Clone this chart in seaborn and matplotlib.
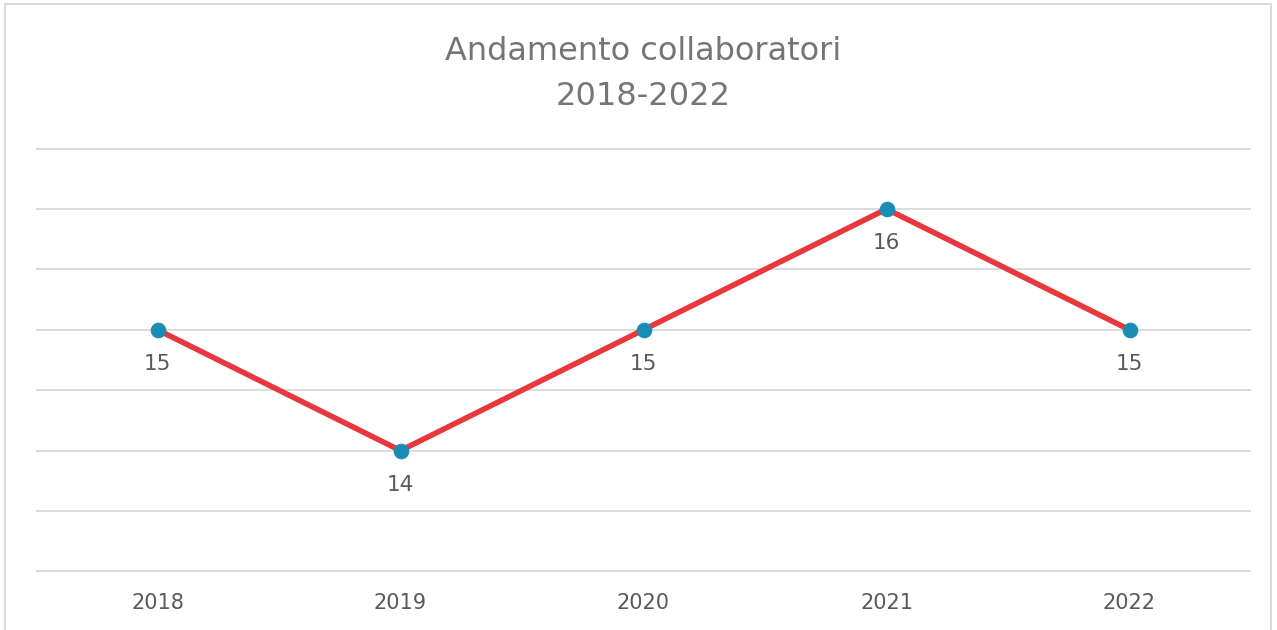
import matplotlib
matplotlib.use("Agg")
import matplotlib.pyplot as plt
import seaborn as sns
import pandas as pd
from matplotlib.patches import Rectangle

years = ["2018", "2019", "2020", "2021", "2022"]
collaboratori = [15, 14, 15, 16, 15]

sns.set_theme(style="white")
plt.rcParams['font.family'] = ['DejaVu Sans']

df = pd.DataFrame({"anno": years, "collaboratori": collaboratori})

fig = plt.figure(figsize=(12.77, 6.30), dpi=100)
ax = fig.add_axes([36 / 1277, 1 - 572 / 630, (1251 - 36) / 1277, (572 - 148) / 630])

sns.lineplot(data=df, x="anno", y="collaboratori", ax=ax, color="#E8383D",
             linewidth=4, marker="o", markersize=10.5, markerfacecolor="#1A8BB3",
             markeredgecolor="#1A8BB3", zorder=3)

ax.set_xlim(-0.5, len(years) - 0.5)
ax.set_ylim(12.995, 16.505)
ax.set_yticks([13 + 0.5 * i for i in range(8)])
ax.yaxis.grid(True, color="#D9D9D9", linewidth=1.3)
ax.set_axisbelow(True)
ax.tick_params(axis="y", left=False, labelleft=False)
ax.tick_params(axis="x", bottom=False, labelsize=15, labelcolor="#595959", pad=9)
for s in ax.spines.values():
    s.set_visible(False)
ax.set_xlabel("")
ax.set_ylabel("")

for i, v in enumerate(collaboratori):
    ax.annotate(str(v), (i, v), xytext=(0, -34), textcoords="offset pixels",
                ha="center", va="center", fontsize=15.5, color="#595959")

fig.text(0.504, 1 - 74 / 630, "Andamento collaboratori\n2018-2022", ha="center", va="center",
         fontsize=23, color="#757575", linespacing=1.6)

fig.patches.append(Rectangle((5 / 1277, -0.01), 1266 / 1277, 1 - 4 / 630 + 0.01,
                             transform=fig.transFigure, fill=False,
                             edgecolor="#D9D9D9", linewidth=1.5))

fig.savefig("out.png", dpi=100, facecolor="white")
